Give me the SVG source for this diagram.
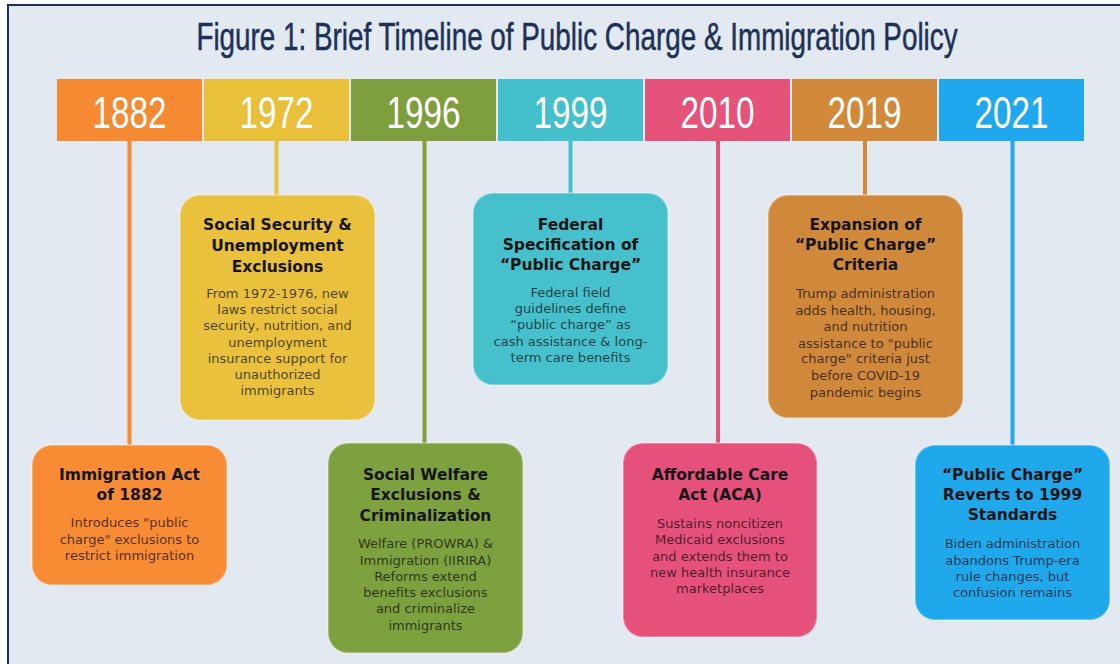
<svg xmlns="http://www.w3.org/2000/svg" width="1120" height="664" viewBox="0 0 1120 664">
  <style>
    .frame { fill: #e3e9f0; stroke: #1c2f6b; stroke-width: 2; }
    .title { font-family: "Liberation Sans", Arial, sans-serif; font-size: 38px; fill: #1d3158; stroke: #1d3158; stroke-width: 0.5; text-anchor: middle; }
    .year { font-family: "Liberation Sans", Arial, sans-serif; font-size: 44px; fill: #ffffff; text-anchor: middle; }
    .card { stroke: #ffffff; stroke-opacity: 0.3; stroke-width: 2; }
    .head { font-family: "DejaVu Sans", Verdana, sans-serif; font-weight: bold; font-size: 15.5px; fill: #161616; text-anchor: middle; }
    .body { font-family: "DejaVu Sans", Verdana, sans-serif; font-size: 13px; fill: #000000; fill-opacity: 0.68; text-anchor: middle; }
    .link { stroke-width: 4; fill: none; }
  </style>

  <rect width="1120" height="664" fill="#ffffff"/>
  <rect class="frame" x="8" y="5" width="1130" height="680"/>

  <!-- condensed heading: horizontal squeeze of a regular sans -->
  <text class="title" transform="translate(577 50) scale(0.733 1)">Figure 1: Brief Timeline of Public Charge &amp; Immigration Policy</text>

  <!-- vertical stems from the year bar to each card -->
  <g id="connectors">
    <line class="link" stroke="#f68a33" x1="129.5" y1="140" x2="129.5" y2="446"/>
    <line class="link" stroke="#e8c03a" x1="276.5" y1="140" x2="276.5" y2="196"/>
    <line class="link" stroke="#7f9f3f" x1="424.5" y1="140" x2="424.5" y2="444"/>
    <line class="link" stroke="#44bfcc" x1="570.5" y1="140" x2="570.5" y2="194"/>
    <line class="link" stroke="#e5527a" x1="718" y1="140" x2="718" y2="444"/>
    <line class="link" stroke="#d3893a" x1="865" y1="140" x2="865" y2="196"/>
    <line class="link" stroke="#20a8ee" x1="1012.5" y1="140" x2="1012.5" y2="446"/>
  </g>

  <!-- year bar -->
  <g id="year-1882"><rect x="57" y="79" width="145" height="62" fill="#f68a33"/><text class="year" x="129.5" y="128" textLength="74" lengthAdjust="spacingAndGlyphs">1882</text></g>
  <g id="year-1972"><rect x="204" y="79" width="145" height="62" fill="#e8c03a"/><text class="year" x="276.5" y="128" textLength="74" lengthAdjust="spacingAndGlyphs">1972</text></g>
  <g id="year-1996"><rect x="351" y="79" width="145" height="62" fill="#7f9f3f"/><text class="year" x="423.5" y="128" textLength="74" lengthAdjust="spacingAndGlyphs">1996</text></g>
  <g id="year-1999"><rect x="498" y="79" width="145" height="62" fill="#44bfcc"/><text class="year" x="570.5" y="128" textLength="74" lengthAdjust="spacingAndGlyphs">1999</text></g>
  <g id="year-2010"><rect x="645" y="79" width="145" height="62" fill="#e5527a"/><text class="year" x="717.5" y="128" textLength="74" lengthAdjust="spacingAndGlyphs">2010</text></g>
  <g id="year-2019"><rect x="792" y="79" width="145" height="62" fill="#d3893a"/><text class="year" x="864.5" y="128" textLength="74" lengthAdjust="spacingAndGlyphs">2019</text></g>
  <g id="year-2021"><rect x="939" y="79" width="145" height="62" fill="#20a8ee"/><text class="year" x="1011.5" y="128" textLength="74" lengthAdjust="spacingAndGlyphs">2021</text></g>

  <!-- event cards -->
  <g id="event-1882">
    <rect class="card" x="32" y="445" width="195" height="140" rx="20" fill="#f78c35"/>
    <text class="head" x="129.5" y="480">Immigration Act</text>
    <text class="head" x="129.5" y="500">of 1882</text>
    <text class="body" x="129.5" y="527">Introduces "public</text>
    <text class="body" x="129.5" y="544">charge" exclusions to</text>
    <text class="body" x="129.5" y="560">restrict immigration</text>
  </g>

  <g id="event-1972">
    <rect class="card" x="180" y="195" width="195" height="225" rx="20" fill="#e9c13c"/>
    <text class="head" x="277.5" y="230">Social Security &amp;</text>
    <text class="head" x="277.5" y="251">Unemployment</text>
    <text class="head" x="277.5" y="272">Exclusions</text>
    <text class="body" x="277.5" y="298">From 1972-1976, new</text>
    <text class="body" x="277.5" y="314">laws restrict social</text>
    <text class="body" x="277.5" y="330">security, nutrition, and</text>
    <text class="body" x="277.5" y="347">unemployment</text>
    <text class="body" x="277.5" y="363">insurance support for</text>
    <text class="body" x="277.5" y="379">unauthorized</text>
    <text class="body" x="277.5" y="395">immigrants</text>
  </g>

  <g id="event-1996">
    <rect class="card" x="328" y="443" width="195" height="210" rx="20" fill="#7ea13f"/>
    <text class="head" x="425.5" y="480">Social Welfare</text>
    <text class="head" x="425.5" y="500">Exclusions &amp;</text>
    <text class="head" x="425.5" y="521">Criminalization</text>
    <text class="body" x="425.5" y="548">Welfare (PROWRA) &amp;</text>
    <text class="body" x="425.5" y="565">Immigration (IIRIRA)</text>
    <text class="body" x="425.5" y="581">Reforms extend</text>
    <text class="body" x="425.5" y="597">benefits exclusions</text>
    <text class="body" x="425.5" y="613">and criminalize</text>
    <text class="body" x="425.5" y="630">immigrants</text>
  </g>

  <g id="event-1999">
    <rect class="card" x="473" y="193" width="195" height="192" rx="20" fill="#46c0cc"/>
    <text class="head" x="570.5" y="230">Federal</text>
    <text class="head" x="570.5" y="250">Specification of</text>
    <text class="head" x="570.5" y="270">“Public Charge”</text>
    <text class="body" x="570.5" y="297">Federal field</text>
    <text class="body" x="570.5" y="313">guidelines define</text>
    <text class="body" x="570.5" y="329">“public charge” as</text>
    <text class="body" x="570.5" y="346">cash assistance &amp; long-</text>
    <text class="body" x="570.5" y="362">term care benefits</text>
  </g>

  <g id="event-2010">
    <rect class="card" x="623" y="443" width="194" height="194" rx="20" fill="#e5517b"/>
    <text class="head" x="720" y="480">Affordable Care</text>
    <text class="head" x="720" y="500">Act (ACA)</text>
    <text class="body" x="720" y="528">Sustains noncitizen</text>
    <text class="body" x="720" y="544">Medicaid exclusions</text>
    <text class="body" x="720" y="561">and extends them to</text>
    <text class="body" x="720" y="577">new health insurance</text>
    <text class="body" x="720" y="593">marketplaces</text>
  </g>

  <g id="event-2019">
    <rect class="card" x="768" y="195" width="195" height="223" rx="20" fill="#d0893a"/>
    <text class="head" x="865.5" y="230">Expansion of</text>
    <text class="head" x="865.5" y="250">“Public Charge”</text>
    <text class="head" x="865.5" y="270">Criteria</text>
    <text class="body" x="865.5" y="298">Trump administration</text>
    <text class="body" x="865.5" y="315">adds health, housing,</text>
    <text class="body" x="865.5" y="331">and nutrition</text>
    <text class="body" x="865.5" y="348">assistance to "public</text>
    <text class="body" x="865.5" y="363">charge" criteria just</text>
    <text class="body" x="865.5" y="380">before COVID-19</text>
    <text class="body" x="865.5" y="397">pandemic begins</text>
  </g>

  <g id="event-2021">
    <rect class="card" x="915" y="445" width="195" height="175" rx="20" fill="#1fa8ec"/>
    <text class="head" x="1012.5" y="480">“Public Charge”</text>
    <text class="head" x="1012.5" y="500">Reverts to 1999</text>
    <text class="head" x="1012.5" y="520">Standards</text>
    <text class="body" x="1012.5" y="548">Biden administration</text>
    <text class="body" x="1012.5" y="565">abandons Trump-era</text>
    <text class="body" x="1012.5" y="581">rule changes, but</text>
    <text class="body" x="1012.5" y="597">confusion remains</text>
  </g>
</svg>
